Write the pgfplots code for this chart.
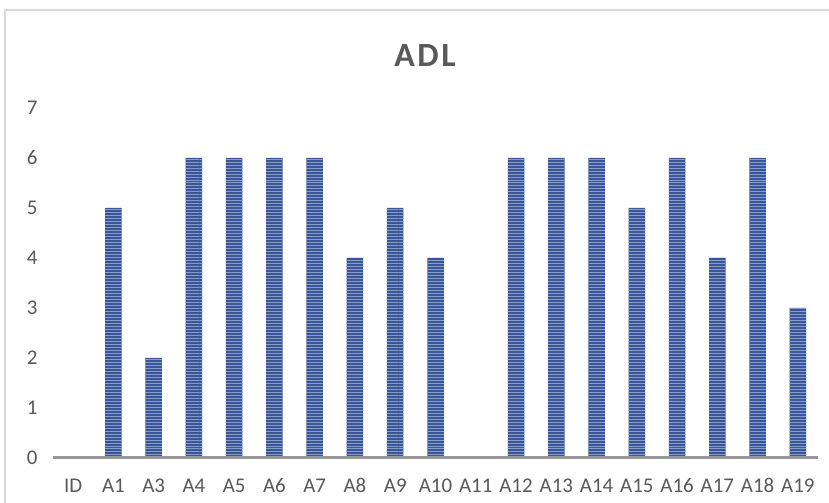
\documentclass[border=0pt]{standalone}
\usepackage{pgfplots}
\pgfplotsset{compat=1.18}
\usepackage{fontspec}
\setmainfont{Carlito}
\usetikzlibrary{patterns}
\definecolor{txt}{RGB}{89,89,89}
\definecolor{barblue}{RGB}{58,86,150}
\definecolor{stripe}{RGB}{135,158,205}
\definecolor{framecol}{RGB}{217,217,217}
\definecolor{baseln}{RGB}{150,150,150}

\begin{document}
\begin{tikzpicture}[x=1bp,y=1bp]
\useasboundingbox (0,0) rectangle (829,503);
\fill[white] (0,0) rectangle (829,503);
% chart area frame
\draw[framecol, line width=1.5bp] (5,-10) rectangle (845,493);
% title
\node[text=txt, font=\fontsize{34}{34}\selectfont\bfseries] at (425,447) {A\kern2.5bp D\kern2.5bp L};
\begin{axis}[
  at={(53bp,45bp)}, anchor=south west,
  width=765bp, height=350bp, scale only axis,
  xmin=-0.5, xmax=18.5, ymin=0, ymax=7,
  ybar, bar width=0.41,
  xtick={0,...,18},
  xticklabels={ID,A1,A3,A4,A5,A6,A7,A8,A9,A10,A11,A12,A13,A14,A15,A16,A17,A18,A19},
  ytick={0,...,7},
  major tick length=0,
  axis lines*=left,
  x axis line style={-, draw=baseln, line width=2bp},
  y axis line style={draw=none},
  tick label style={text=txt, font=\fontsize{21}{21}\selectfont},
  yticklabel style={xshift=-12bp},
  xticklabel style={anchor=base, yshift=-35bp},
  /pgf/number format/assume math mode=true,
  clip=false,
]
\addplot[fill=barblue, draw=none,
  postaction={pattern=horizontal lines, pattern color=stripe}]
  coordinates {
  (0,0) (1,5) (2,2) (3,6) (4,6) (5,6) (6,6) (7,4) (8,5) (9,4)
  (10,0) (11,6) (12,6) (13,6) (14,5) (15,6) (16,4) (17,6) (18,3)
  };
\end{axis}
% baseline under the bars
\fill[baseln] (53,44) rectangle (818,46.5);
\end{tikzpicture}
\end{document}
